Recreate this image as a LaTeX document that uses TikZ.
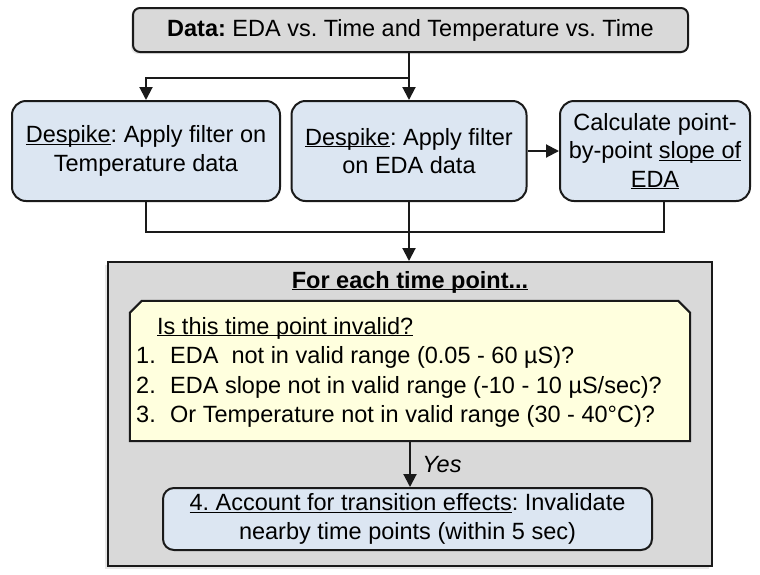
\documentclass[tikz,border=0pt]{standalone}
\usepackage{fontspec}
\setmainfont{Liberation Sans}
\usetikzlibrary{arrows.meta,shadows}
\definecolor{bluefill}{HTML}{DCE6F2}
\definecolor{grayfill}{HTML}{D9D9D9}
\definecolor{yelfill}{HTML}{FFFFDE}
\definecolor{edge}{HTML}{1A1A1A}
\newcommand{\ulx}[1]{\underline{\smash{#1}}}
\frenchspacing
\begin{document}
\begin{tikzpicture}[x=1pt,y=-1pt,
  font=\fontsize{23.5}{28.5}\selectfont,
  boxbase/.style={draw=edge, line width=2pt, align=center, inner sep=0pt},
  bluebox/.style={boxbase, fill=bluefill, rounded corners=14pt},
  graybox/.style={boxbase, fill=grayfill},
  conn/.style={draw=edge, line width=2pt},
  arr/.style={conn, -{Triangle[length=13pt,width=13pt]}},
  txt/.style={inner sep=0pt, anchor=base west}]
\useasboundingbox (0,0) rectangle (760,574);

% top data box
\node[graybox, rounded corners=7pt, minimum width=555pt, minimum height=44pt,
      drop shadow={opacity=0.2, shadow xshift=-2pt, shadow yshift=-2pt}]
  (data) at (410.5,30) {\textbf{Data:} EDA vs. Time and Temperature vs. Time};

% three processing boxes
\node[bluebox, minimum width=268pt, minimum height=100pt] (tempbox) at (146,151)
  {\ulx{Despike}: Apply filter on\\Temperature data};
\node[bluebox, minimum width=235pt, minimum height=100pt] (edabox) at (409,151)
  {\ulx{Despike}: Apply filter\\on EDA data};
\node[bluebox, minimum width=190pt, minimum height=100pt] (slope) at (655,151)
  {\rule{0pt}{6pt}Calculate point-\\by-point \ulx{slope of}\\\ulx{EDA}};

% outer loop box
\node[graybox, minimum width=604pt, minimum height=304pt,
      drop shadow={opacity=0.2, shadow xshift=-3pt, shadow yshift=-3pt}]
  (outer) at (410,414) {};
\node[font=\fontsize{23.5}{28.5}\selectfont\bfseries, inner sep=0pt, anchor=base] (title) at (410,288)
  {\ulx{For each time point...}};

% yellow criteria box (chamfered top corners)
\node[minimum width=560pt, minimum height=140pt, inner sep=0pt] (yel) at (410,371) {};
\filldraw[fill=yelfill, draw=edge, line width=2pt]
  ([yshift=-12pt]yel.north west) -- ([xshift=12pt]yel.north west)
  -- ([xshift=-12pt]yel.north east) -- ([yshift=-12pt]yel.north east)
  -- (yel.south east) -- (yel.south west) -- cycle;
\node[txt] (q)  at (157,334) {\ulx{Is this time point invalid?}};
\node[txt] (c1) at (136,363) {\makebox[34pt][l]{1.}EDA\ \ not in valid range (0.05 - 60 µS)?};
\node[txt] (c2) at (136,393) {\makebox[34pt][l]{2.}EDA slope not in valid range (-10 - 10 µS/sec)?};
\node[txt] (c3) at (136,422) {\makebox[34pt][l]{3.}Or Temperature not in valid range (30 - 40°C)?};

% bottom action box
\node[bluebox, rounded corners=11pt, minimum width=489pt, minimum height=62pt] (acct) at (407.5,519)
  {\rule{0pt}{4pt}\ulx{4. Account for transition effects}: Invalidate\\nearby time points (within 5 sec)};

% connectors
\coordinate (br) at (409,78);
\coordinate (mg) at (409,232);
\draw[arr] (data.south -| edabox.north) -- (edabox.north);
\draw[arr] (br) -| (tempbox.north);
\draw[arr] (edabox.east) -- (slope.west);
\draw[conn] (tempbox.south) |- (mg);
\draw[conn] ([xshift=9pt]slope.south) |- (mg);
\draw[arr] (edabox.south) -- (edabox.south |- outer.north);
\draw[arr] (yel.south) -- (yel.south |- acct.north)
  node[midway, right=8pt, font=\fontsize{23.5}{28.5}\selectfont\itshape] (yes) {Yes};
\end{tikzpicture}
\end{document}
